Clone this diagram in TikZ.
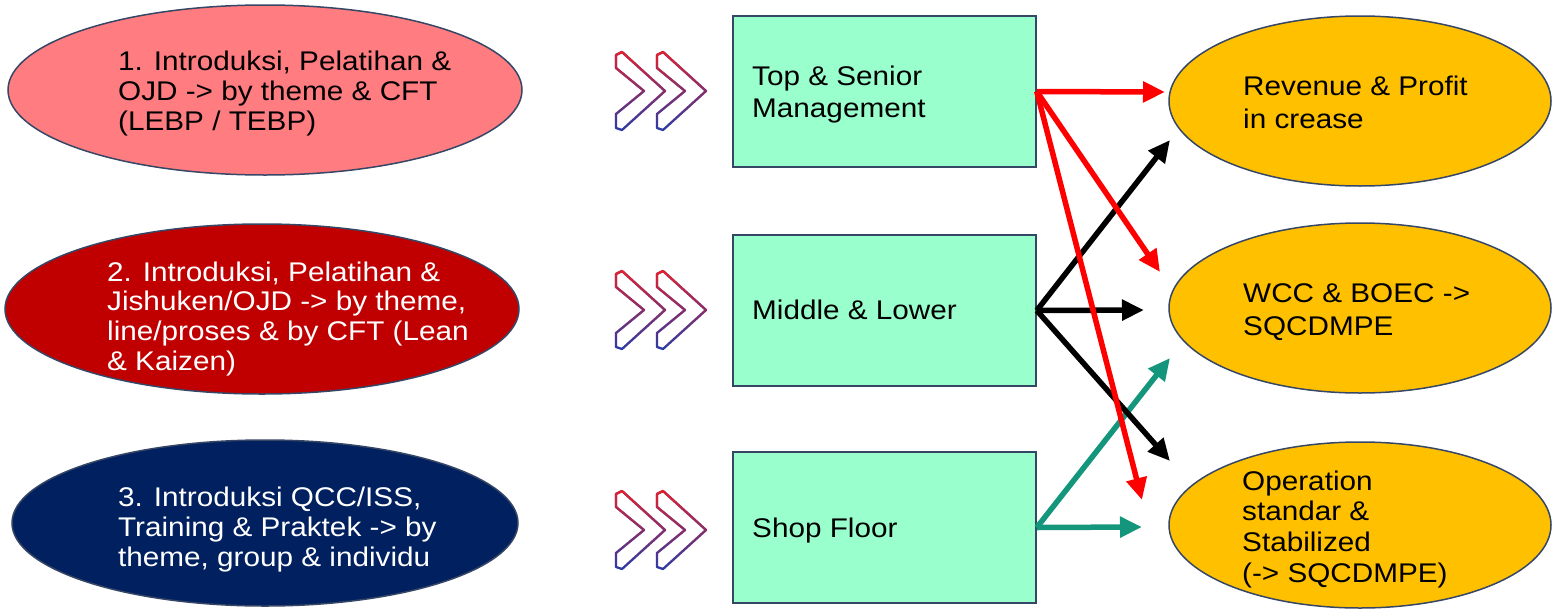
\documentclass[tikz,border=0pt]{standalone}
\usepackage{fontspec}
\setmainfont{Liberation Sans}
\usepackage{graphicx}
\usetikzlibrary{shapes.geometric,arrows.meta,fadings}
\definecolor{pinkE}{HTML}{FF7C80}
\definecolor{redE}{HTML}{C00000}
\definecolor{navyE}{HTML}{002060}
\definecolor{mint}{HTML}{99FFCC}
\definecolor{goldE}{HTML}{FFC000}
\definecolor{edgeC}{HTML}{364766}
\definecolor{tealA}{RGB}{20,150,125}
\definecolor{chevR}{HTML}{E8202A}
\definecolor{chevB}{HTML}{2A3CA8}
\newcommand{\txt}[2]{\fontsize{27}{#1}\selectfont\scalebox{1.1}[1]{\begin{tabular}{@{}l@{}}#2\end{tabular}}}
\newcommand{\chevpath}{(0,3) -- (6,0) -- (49,39) -- (6,78) -- (0,76) -- (0,62) -- (28,39) -- (0,16) -- cycle}
\newcommand{\chevron}[2]{%
  \begin{scope}[shift={(#1,#2)}]
    \draw[chevB, line width=2.3pt, line join=round] \chevpath;
    \draw[chevR, line width=2.3pt, line join=round, path fading=south] \chevpath;
  \end{scope}}
\tikzset{
  ellS/.style={ellipse, draw=edgeC, line width=1.5pt, inner sep=0},
  boxS/.style={rectangle, draw=edgeC, line width=1.5pt, fill=mint, minimum width=303pt, minimum height=151pt, inner sep=0},
  lbl/.style={anchor=north west, inner sep=0},
  conn/.style={line width=5.5pt, -{Triangle[length=22pt,width=20pt]}}
}
\begin{document}
\begin{tikzpicture}[x=1pt,y=-1pt]
\useasboundingbox (0,0) rectangle (1552,608);
% left ellipses
\node[ellS, fill=pinkE, minimum width=514pt, minimum height=170pt] (e1) at (265,90) {};
\node[ellS, fill=redE, minimum width=514pt, minimum height=170pt] (e2) at (262,309) {};
\node[ellS, fill=navyE, minimum width=506pt, minimum height=166pt] (e3) at (265,523) {};
\node[lbl] (t1) at (118,49.7) {\txt{30}{1. Introduksi, Pelatihan \&\\OJD -> by theme \& CFT\\(LEBP / TEBP)}};
\node[lbl, text=white] (t2) at (107,260.2) {\txt{29.7}{2. Introduksi, Pelatihan \&\\Jishuken/OJD -> by theme,\\line/proses \& by CFT (Lean\\\& Kaizen)}};
\node[lbl, text=white] (t3) at (118,485) {\txt{30}{3. Introduksi QCC/ISS,\\Training \& Praktek -> by\\theme, group \& individu}};
% chevrons
\chevron{616}{52}
\chevron{657}{52}
\chevron{616}{271}
\chevron{657}{271}
\chevron{616}{491}
\chevron{657}{491}
% boxes
\node[boxS] (b1) at (884.5,91.5) {};
\node[boxS] (b2) at (884.5,310.5) {};
\node[boxS] (b3) at (884.5,527.5) {};
\node[lbl] (tb1) at (752,62.6) {\txt{32}{Top \& Senior\\Management}};
\node[lbl] (tb2) at (752,296.6) {\txt{32}{Middle \& Lower}};
\node[lbl] (tb3) at (752,514.6) {\txt{32}{Shop Floor}};
% right ellipses
\node[ellS, fill=goldE, minimum width=382pt, minimum height=170pt] (r1) at (1360,101) {};
\node[ellS, fill=goldE, minimum width=382pt, minimum height=170pt] (r2) at (1360,308) {};
\node[ellS, fill=goldE, minimum width=382pt, minimum height=166pt] (r3) at (1360,525) {};
\node[lbl] (tr1) at (1243,71.9) {\txt{33}{Revenue \& Profit\\in crease}};
\node[lbl] (tr2) at (1243,278.9) {\txt{33}{WCC \& BOEC ->\\SQCDMPE}};
\node[lbl] (tr3) at (1242,468.5) {\txt{30.7}{Operation\\standar \&\\Stabilized\\(-> SQCDMPE)}};
% arrow targets
\coordinate (a11) at (1165,92);
\coordinate (a12) at (1160,272);
\coordinate (a13) at (1142,500);
\coordinate (a21) at (1170,140);
\coordinate (a22) at (1144,310);
\coordinate (a23) at (1170,461);
\coordinate (a31) at (1170,358);
\coordinate (a32) at (1142,527);
% connectors
\draw[conn, tealA] (b3.east) -- (a31);
\draw[conn, tealA] (b3.east) -- (a32);
\draw[conn, black] (b2.east) -- (a21);
\draw[conn, black] (b2.east) -- (a22);
\draw[conn, black] (b2.east) -- (a23);
\draw[conn, red] (b1.east) -- (a11);
\draw[conn, red] (b1.east) -- (a12);
\draw[conn, red] (b1.east) -- (a13);
\end{tikzpicture}
\end{document}
